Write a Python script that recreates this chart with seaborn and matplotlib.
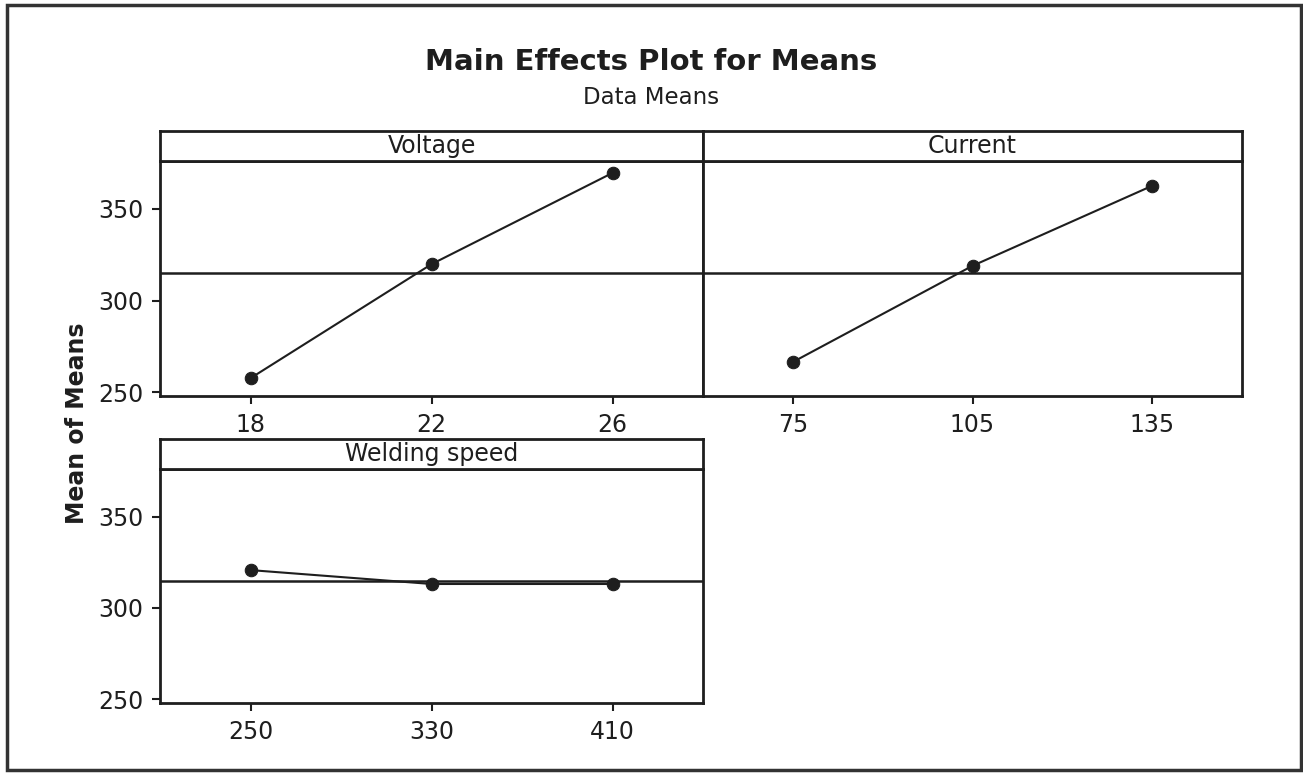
import matplotlib
matplotlib.use("Agg")
from matplotlib import pyplot as plt
from matplotlib.patches import Rectangle
import numpy as np
import pandas as pd
import seaborn as sns

# Valeurs (moyennes par niveau)
voltage_levels = [18, 22, 26]
voltage_means = [257.7, 319.8, 369.5]

current_levels = [75, 105, 135]
current_means = [266.5, 318.9, 362.5]

speed_levels = [250, 330, 410]
speed_means = [320.7, 313.1, 313.1]

grand_mean = 315.0
y_ticks = [250, 300, 350]

factors = ["Voltage", "Current", "Welding speed"]

df = pd.concat([
    pd.DataFrame({"factor": "Voltage", "level": voltage_levels, "mean": voltage_means}),
    pd.DataFrame({"factor": "Current", "level": current_levels, "mean": current_means}),
    pd.DataFrame({"factor": "Welding speed", "level": speed_levels, "mean": speed_means}),
], ignore_index=True)

sns.set_style("ticks")
plt.rcParams["font.family"] = ["DejaVu Sans"]

INK = "#1e1e1e"
W, H = 1303, 773
fig = plt.figure(figsize=(W / 100, H / 100), dpi=100)


def px_box(x0, y0, x1, y1):
    # pixels (origine en haut a gauche) -> fraction de figure
    return [x0 / W, 1 - y1 / H, (x1 - x0) / W, (y1 - y0) / H]


positions = {
    "Voltage": px_box(160, 161, 703, 396),
    "Current": px_box(703, 161, 1242, 396),
    "Welding speed": px_box(160, 469, 703, 703),
}
strip_px = 30

for name in factors:
    ax = fig.add_axes(positions[name])
    sub = df[df["factor"] == name]
    levels = sub["level"].to_numpy()
    step = levels[1] - levels[0]

    ax.axhline(grand_mean, color=INK, linewidth=1.8, zorder=1)
    sns.lineplot(data=sub, x="level", y="mean", ax=ax, color=INK, linewidth=1.5,
                 marker="o", markersize=9, markeredgecolor=INK, zorder=3)

    ax.set_xlim(levels[0] - step / 2, levels[-1] + step / 2)
    ax.set_ylim(248, 376)
    ax.set_xticks(levels)
    ax.set_xticklabels([str(v) for v in levels])
    ax.set_xlabel("")
    ax.set_ylabel("")
    ax.tick_params(axis="both", direction="out", length=6, width=1.5, color=INK,
                   labelsize=17, labelcolor=INK, pad=6)
    if name == "Current":
        ax.set_yticks([])
    else:
        ax.set_yticks(y_ticks)
    for s in ax.spines.values():
        s.set_visible(True)
        s.set_linewidth(2)
        s.set_color(INK)

    # bandeau du titre du panneau
    h_ax = positions[name][3] * H
    strip = ax.inset_axes([0, 1, 1, strip_px / h_ax])
    strip.set_xticks([])
    strip.set_yticks([])
    for s in strip.spines.values():
        s.set_linewidth(2)
        s.set_color(INK)
    strip.text(0.5, 0.5, name, ha="center", va="center", fontsize=17, color=INK,
               transform=strip.transAxes)

fig.text(0.5, 1 - 62 / H, "Main Effects Plot for Means", ha="center", va="center",
         fontsize=21, fontweight="bold", color=INK)
fig.text(0.5, 1 - 97 / H, "Data Means", ha="center", va="center",
         fontsize=16.5, color=INK)
fig.text(77 / W, 1 - 423 / H, "Mean of Means", ha="center", va="center",
         rotation=90, fontsize=17, fontweight="bold", color=INK)

# cadre exterieur
fig.patches.append(Rectangle((7 / W, 1 - 770 / H), 1294 / W, 765 / H,
                             transform=fig.transFigure, fill=False,
                             edgecolor="#333333", linewidth=2.5))

plt.savefig("out.png", dpi=100)
